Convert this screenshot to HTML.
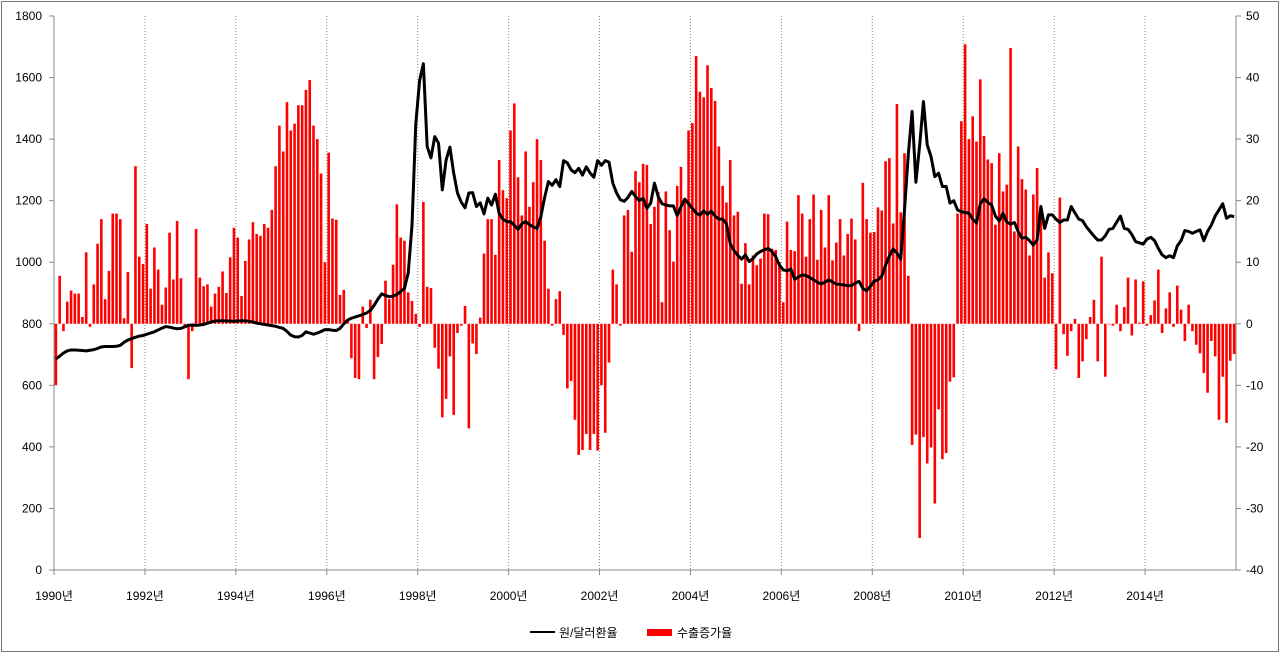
<!DOCTYPE html>
<html><head><meta charset="utf-8">
<style>
html,body{margin:0;padding:0;background:#fff;}
svg{display:block;font-family:"Liberation Sans","Noto Sans CJK KR",sans-serif;}
</style></head>
<body>
<svg id="chart" width="1280" height="654" viewBox="0 0 1280 654" xmlns="http://www.w3.org/2000/svg">
<rect x="1.5" y="1.5" width="1277" height="650" fill="#fff" stroke="#777" stroke-width="1"/>
<g id="grid"></g>
<g id="bars"></g>
<g id="axes"></g>
<path id="line" fill="none" stroke="#000" stroke-width="3" stroke-linejoin="round"/>
<g>
  <line x1="530" y1="632" x2="555" y2="632" stroke="#000" stroke-width="2"/>
  <text x="559" y="637" font-size="12" fill="#000">원/달러환율</text>
  <rect x="647" y="629" width="25" height="7" fill="#f00"/>
  <text x="677" y="637" font-size="12" fill="#000">수출증가율</text>
</g>
</svg>
<script>
const years = ["1990","1992","1994","1996","1998","2000","2002","2004","2006","2008","2010","2012","2014"];
const leftTicks = [0,200,400,600,800,1000,1200,1400,1600,1800];
const rightTicks = [-40,-30,-20,-10,0,10,20,30,40,50];
const exchangeRate = [
686,695,705,712,715,715,714,713,712,714,716,720,
725,726,726,726,727,730,740,747,752,756,760,762,
766,770,774,780,786,791,789,786,784,785,790,795,
796,795,796,798,802,806,809,810,810,809,809,808,
809,810,810,808,806,802,800,798,796,794,792,788,
785,775,763,758,757,762,774,770,766,770,775,781,
781,779,778,785,800,812,818,822,826,830,835,843,
860,880,897,892,888,890,895,905,915,965,1120,1450,
1590,1645,1376,1339,1408,1387,1235,1332,1374,1290,1225,1195,
1177,1225,1226,1181,1193,1157,1208,1186,1221,1159,1140,1132,
1132,1120,1107,1125,1132,1122,1115,1110,1148,1210,1262,1250,
1268,1246,1330,1323,1300,1291,1305,1283,1310,1290,1276,1330,
1315,1330,1325,1257,1225,1203,1198,1210,1230,1213,1200,1208,
1175,1192,1257,1213,1190,1186,1183,1183,1152,1180,1205,1190,
1175,1160,1153,1167,1156,1166,1150,1140,1140,1125,1060,1038,
1022,1010,1024,1002,1012,1027,1035,1040,1045,1035,1018,990,
975,972,978,945,952,959,957,950,943,935,929,935,
943,936,929,928,926,924,924,932,938,915,907,922,
938,943,955,990,1020,1043,1030,1010,1170,1350,1490,1260,
1380,1522,1381,1343,1278,1289,1246,1246,1192,1200,1170,1164,
1162,1159,1140,1127,1190,1206,1194,1186,1150,1134,1159,1130,
1124,1129,1100,1078,1081,1070,1056,1072,1181,1110,1154,1154,
1140,1129,1137,1137,1181,1160,1140,1135,1115,1100,1085,1072,
1072,1086,1107,1110,1130,1150,1110,1107,1090,1067,1063,1059,
1075,1081,1070,1045,1024,1015,1021,1015,1053,1070,1103,1100,
1094,1100,1105,1070,1100,1121,1150,1170,1190,1143,1151,1148];
const exportGrowth = [
-10,7.8,-1.2,3.6,5.4,4.9,4.9,1.1,11.6,-0.5,6.4,13,
17,4,8.6,17.9,17.9,17,0.9,8.4,-7.2,25.6,10.9,9.7,
16.2,5.7,12.4,8.8,3.1,5.9,14.8,7.2,16.7,7.4,-0.5,-9,
-1.2,15.4,7.5,6.1,6.4,2.8,4.9,6,8.5,5,10.8,15.6,
14,4.5,10.2,13.7,16.5,14.6,14.3,16.2,15.6,18.5,25.6,32.2,
28,36,31.4,32.5,35.5,35.5,38,39.6,32.2,30,24.4,10,
27.8,17.1,16.9,4.7,5.5,0.5,-5.6,-8.8,-9,2.8,-0.7,3.9,
-9,-5.4,-3.3,7,4,9.6,19.4,14,13.5,5.1,3.7,1.6,
-0.5,19.8,6,5.8,-3.9,-7.3,-15.2,-12.2,-5.3,-14.8,-1.5,-0.3,
2.9,-17,-3.2,-4.9,1,11.4,17,17,11.2,26.6,21.7,20.4,
31.4,35.8,23.8,17.6,28,19,23,30,26.6,13.5,5.7,-0.3,
4,5.3,-1.8,-10.5,-9.3,-15.6,-21.3,-20.5,-17.9,-20.5,-17.9,-20.6,
-10,-17.7,-6.3,8.8,6.4,-0.3,17.6,18.5,11.7,24.8,23,26,
25.8,16.2,19,21.4,3.5,21.5,15.2,10.1,22.4,25.5,20,31.4,
32.6,43.5,37.7,36.8,42,38.3,36.2,28.8,22.4,19.7,26.6,17.6,
18.2,6.5,13.1,6.4,11.1,9.5,10.6,17.9,17.8,12.2,12,10,
3.5,16.6,12,11.8,20.9,17.9,10.9,17,21,10.4,18.5,12.4,
20.9,10.3,13.2,17,11.1,14.6,17.1,13.7,-1.2,22.9,17,14.8,
14.9,18.9,18.4,26.4,26.9,16.3,35.7,18.1,27.7,7.8,-19.7,-18,
-34.8,-18.4,-22.7,-20.1,-29.2,-13.9,-22,-21,-9.4,-8.7,17.9,32.9,
45.4,30,33.7,29.6,39.7,30.5,26.7,26.1,16.1,27.7,21.5,22.6,
44.8,15,28.8,23.5,21.8,11.1,21,25.3,19,7.5,11.6,8.2,
-7.4,20.5,-1.7,-5.2,-1.2,0.8,-8.8,-6.1,-2.5,1.1,3.9,-6.1,
10.9,-8.6,-0.1,-0.3,3.1,-1.2,2.7,7.5,-1.9,7.2,0.2,6.9,
-0.3,1.4,3.8,8.8,-1.5,2.5,5.1,-0.5,6.2,2.3,-2.8,3.1,
-1.2,-3.4,-4.8,-8,-11.2,-2.8,-5.3,-15.6,-8.6,-16.1,-6,-4.9];

const NS = "http://www.w3.org/2000/svg";
const X0 = 54, X1 = 1236, YT = 16, YB = 570;
const N = exchangeRate.length;
const monthW = (X1 - X0) / N;
const xMonth = i => X0 + (i + 0.5) * monthW;
const xEdge = i => X0 + i * monthW;
const yLeft = v => YB - (v - leftTicks[0]) / (leftTicks[leftTicks.length-1] - leftTicks[0]) * (YB - YT);
const yRight = v => YB - (v - rightTicks[0]) / (rightTicks[rightTicks.length-1] - rightTicks[0]) * (YB - YT);

function mk(tag, attrs, parent){ const e = document.createElementNS(NS, tag); for (const k in attrs) e.setAttribute(k, attrs[k]); parent.appendChild(e); return e; }

const grid = document.getElementById('grid');
const axes = document.getElementById('axes');
const barsG = document.getElementById('bars');

// vertical gridlines + x labels
years.forEach((y, k) => {
  const x = xEdge(k * 24);
  if (k > 0) {
    const g = mk('line', {x1:x, y1:YT, x2:x, y2:YB, stroke:'#888', 'stroke-width':1, 'stroke-dasharray':'1,2'}, grid);
    
    
  }
  const t = mk('line', {x1:x, y1:YB, x2:x, y2:YB+5, stroke:'#888'}, axes);
  
  
  const lb = mk('text', {x:x, y:600, 'font-size':12, 'text-anchor':'middle', fill:'#000'}, axes);
  lb.textContent = y + '년';
  
  
});

// bars
const bw = 2.6;
exportGrowth.forEach((v, i) => {
  const y0 = yRight(0), y1 = yRight(v);
  const r = mk('rect', {x:xMonth(i) - bw/2, y:Math.min(y0,y1), width:bw, height:Math.max(0.5, Math.abs(y1-y0)), fill:'#f00'}, barsG);
  
  
});

// axes lines
mk('line', {x1:X0, y1:YT, x2:X0, y2:YB, stroke:'#888'}, axes);
mk('line', {x1:X1, y1:YT, x2:X1, y2:YB, stroke:'#888'}, axes);
mk('line', {x1:X0, y1:YB, x2:X1, y2:YB, stroke:'#888'}, axes);

leftTicks.forEach(v => {
  const y = yLeft(v);
  mk('line', {x1:X0-5, y1:y, x2:X0, y2:y, stroke:'#888'}, axes);
  const t = mk('text', {x:42, y:y+4, 'font-size':12, 'text-anchor':'end', fill:'#000'}, axes);
  t.textContent = v;
  
  
});
rightTicks.forEach(v => {
  const y = yRight(v);
  mk('line', {x1:X1, y1:y, x2:X1+5, y2:y, stroke:'#888'}, axes);
  const t = mk('text', {x:1246, y:y+4, 'font-size':12, 'text-anchor':'start', fill:'#000'}, axes);
  t.textContent = v;
  
  
});

// line
let d = '';
exchangeRate.forEach((v, i) => { d += (i ? 'L' : 'M') + xMonth(i).toFixed(2) + ',' + yLeft(v).toFixed(2); });
document.getElementById('line').setAttribute('d', d);
</script>
</body></html>
